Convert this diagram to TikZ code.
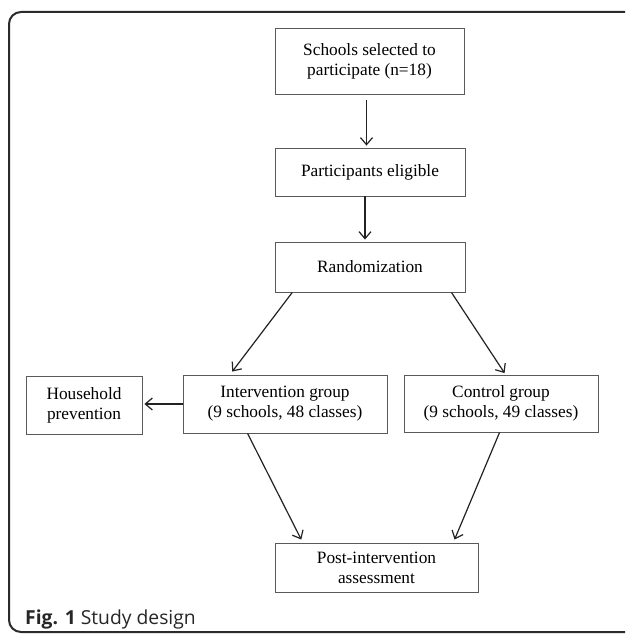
\documentclass[tikz,border=0pt]{standalone}
\usepackage{fontspec}
\setmainfont{Liberation Serif}
\newfontfamily\capfont{Open Sans}
\usetikzlibrary{arrows.meta,calc}
\definecolor{boxline}{HTML}{5A5A5A}
\definecolor{arrowline}{HTML}{222222}
\definecolor{frameline}{HTML}{2B2B2B}
\tikzset{
  flowbox/.style={draw=boxline, line width=0.9pt, inner sep=0pt, align=center,
    font=\fontsize{17.3}{20}\selectfont, text=black},
  flowarrow/.style={draw=arrowline, line width=1.2pt,
    -{Straight Barb[length=7pt,width=12pt,line width=1.2pt]}},
}
\begin{document}
\begin{tikzpicture}[x=1pt,y=-1pt]
\clip (0,0) rectangle (625,634);
\draw[frameline, line width=2pt, rounded corners=12pt] (9,12) rectangle (680,632);

\node[flowbox, minimum width=189pt, minimum height=66pt] (schools) at (369.5,61) {Schools selected to\\participate (n=18)};
\node[flowbox, minimum width=190pt, minimum height=48pt] (elig) at (370,172) {Participants eligible};
\node[flowbox, minimum width=190pt, minimum height=50pt] (rand) at (370,267) {Randomization};
\node[flowbox, minimum width=204pt, minimum height=58pt] (interv) at (285,404) {Intervention group\\(9 schools, 48 classes)};
\node[flowbox, minimum width=194pt, minimum height=57pt] (ctrl) at (501,403.5) {Control group\\(9 schools, 49 classes)};
\node[flowbox, minimum width=116pt, minimum height=58pt] (house) at (84,405) {Household\\prevention};
\node[flowbox, minimum width=203pt, minimum height=49pt] (post) at (376.5,567.5) {Post-intervention\\assessment};

\draw[flowarrow] ($(schools.south)+(-3,6)$) -- ($(elig.north)+(-3.5,-2)$);
\draw[flowarrow] ($(elig.south)+(-5,0)$) -- ($(rand.north)+(-5,-2)$);
\draw[flowarrow] ($(rand.south west)+(17.7,0)$) -- ($(interv.north west)+(49.7,-3)$);
\draw[flowarrow] ($(rand.south east)+(-14,0)$) -- ($(ctrl.north west)+(101,-1.5)$);
\draw[flowarrow] (interv.west) -- ($(house.east)+(2,-1)$);
\draw[flowarrow] ($(interv.south west)+(65,0)$) -- ($(post.north west)+(26.7,-3)$);
\draw[flowarrow] ($(ctrl.south west)+(96,0)$) -- ($(post.north west)+(180,-3)$);

\node[anchor=base west, inner sep=0pt, font=\capfont\fontsize{19.3}{23}\selectfont, text=black!85] (cap) at (25,624) {\textbf{Fig. 1} Study design};
\end{tikzpicture}
\end{document}
